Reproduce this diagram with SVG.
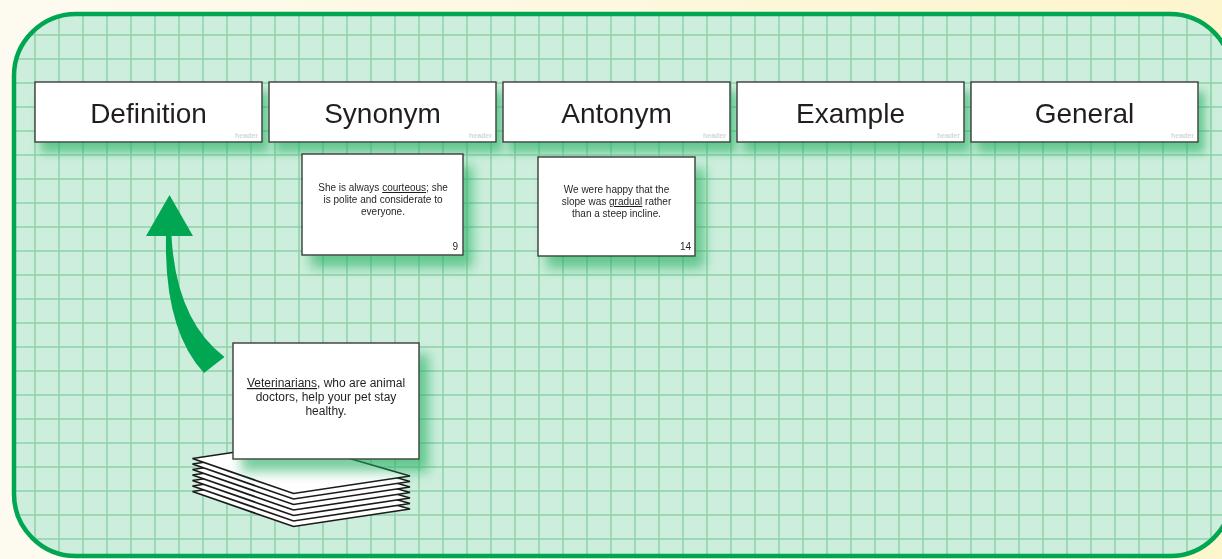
<svg xmlns="http://www.w3.org/2000/svg" width="1222" height="559" viewBox="0 0 1222 559">
<defs>
<linearGradient id="bg" x1="0" y1="0" x2="1" y2="0">
<stop offset="0" stop-color="#fdfbf1"/>
<stop offset="1" stop-color="#fdf5cc"/>
</linearGradient>
<clipPath id="board"><rect x="14" y="14" width="1218" height="542" rx="62"/></clipPath>
<pattern id="grid" x="23" y="23" width="24" height="24" patternUnits="userSpaceOnUse">
<path d="M12 0V24M0 12H24" fill="none" stroke="#8dd2a7" stroke-width="1.5"/>
</pattern>
<filter id="hshadow" x="-10%" y="-30%" width="125%" height="190%">
<feFlood flood-color="#1fae5e" flood-opacity="0.6"/>
<feComposite in2="SourceAlpha" operator="in"/>
<feOffset dx="6" dy="10"/>
<feGaussianBlur stdDeviation="5"/>
<feMerge><feMergeNode/><feMergeNode in="SourceGraphic"/></feMerge>
</filter>
<filter id="cshadow" x="-20%" y="-20%" width="160%" height="160%">
<feFlood flood-color="#1fae5e" flood-opacity="0.6"/>
<feComposite in2="SourceAlpha" operator="in"/>
<feOffset dx="9" dy="12"/>
<feGaussianBlur stdDeviation="6"/>
<feMerge><feMergeNode/><feMergeNode in="SourceGraphic"/></feMerge>
</filter>
</defs>
<style>
.hbox{fill:#fff;stroke:#3a3a3a;stroke-width:1.4}
.htxt{font-family:"Liberation Sans",Arial,sans-serif;font-size:28px;fill:#231f20;text-anchor:middle}
.tag{font-family:"Liberation Sans",Arial,sans-serif;font-size:7px;font-weight:bold;fill:#d4d4d4;text-anchor:end}
.card{fill:#fff;stroke:#3a3a3a;stroke-width:1.4}
.ctxt{font-family:"Liberation Sans",Arial,sans-serif;font-size:10px;fill:#231f20;text-anchor:middle}
.btxt{font-family:"Liberation Sans",Arial,sans-serif;font-size:12px;fill:#231f20;text-anchor:middle}
.num{font-family:"Liberation Sans",Arial,sans-serif;font-size:10px;fill:#231f20;text-anchor:end}
.stack{fill:#fff;stroke:#1a1a1a;stroke-width:1.7;stroke-linejoin:miter}
</style>
<rect width="1222" height="559" fill="url(#bg)"/>
<g id="board-bg">
<rect x="14" y="14" width="1218" height="542" rx="62" fill="#cdeedc"/>
<rect x="14" y="14" width="1218" height="542" fill="url(#grid)" clip-path="url(#board)"/>
<rect x="14" y="14" width="1218" height="542" rx="62" fill="none" stroke="#00a651" stroke-width="4.5"/>
</g>
<g id="header-definition" filter="url(#hshadow)">
<rect class="hbox" x="35" y="82" width="227" height="60"/>
<text class="htxt" x="148.5" y="123">Definition</text>
<text class="tag" x="258" y="138">header</text>
</g>
<g id="header-synonym" filter="url(#hshadow)">
<rect class="hbox" x="269" y="82" width="227" height="60"/>
<text class="htxt" x="382.5" y="123">Synonym</text>
<text class="tag" x="492" y="138">header</text>
</g>
<g id="header-antonym" filter="url(#hshadow)">
<rect class="hbox" x="503" y="82" width="227" height="60"/>
<text class="htxt" x="616.5" y="123">Antonym</text>
<text class="tag" x="726" y="138">header</text>
</g>
<g id="header-example" filter="url(#hshadow)">
<rect class="hbox" x="737" y="82" width="227" height="60"/>
<text class="htxt" x="850.5" y="123">Example</text>
<text class="tag" x="960" y="138">header</text>
</g>
<g id="header-general" filter="url(#hshadow)">
<rect class="hbox" x="971" y="82" width="227" height="60"/>
<text class="htxt" x="1084.5" y="123">General</text>
<text class="tag" x="1194" y="138">header</text>
</g>
<g id="card-synonym" filter="url(#cshadow)">
<rect class="card" x="302" y="154" width="161" height="101"/>
<text class="ctxt" x="383" y="191">She is always <tspan text-decoration="underline">courteous</tspan>; she</text>
<text class="ctxt" x="383" y="203">is polite and considerate to</text>
<text class="ctxt" x="383" y="215">everyone.</text>
<text class="num" x="458" y="250">9</text>
</g>
<g id="card-antonym" filter="url(#cshadow)">
<rect class="card" x="538" y="157" width="157" height="99"/>
<text class="ctxt" x="616.5" y="193">We were happy that the</text>
<text class="ctxt" x="616.5" y="205">slope was <tspan text-decoration="underline">gradual</tspan> rather</text>
<text class="ctxt" x="616.5" y="217">than a steep incline.</text>
<text class="num" x="691" y="250">14</text>
</g>
<g id="card-stack">
<path class="stack" d="M192.5 491.5L293.5 526.5L410 509L296 476Z"/>
<path class="stack" d="M192.5 486L293.5 521L410 503.5L296 470.5Z"/>
<path class="stack" d="M192.5 480.5L293.5 515.5L410 498L296 465Z"/>
<path class="stack" d="M192.5 475L293.5 510L410 492.5L296 459.5Z"/>
<path class="stack" d="M192.5 469.5L293.5 504.5L410 487L296 454Z"/>
<path class="stack" d="M192.5 464L293.5 499L410 481.5L296 448.5Z"/>
<path class="stack" d="M192.5 458.5L293.5 493.5L410 476L296 443Z"/>
</g>
<g id="card-current" filter="url(#cshadow)">
<rect class="card" x="233" y="343" width="186" height="116"/>
<text class="btxt" x="326" y="387"><tspan text-decoration="underline">Veterinarians</tspan>, who are animal</text>
<text class="btxt" x="326" y="401">doctors, help your pet stay</text>
<text class="btxt" x="326" y="415">healthy.</text>
</g>
<g id="connectors">
<path d="M169.5 195L146 236L166 236Q164 330 204 373L224.5 357Q176 320 171.5 236L193 236Z" fill="#00a651"/>
</g>
</svg>
